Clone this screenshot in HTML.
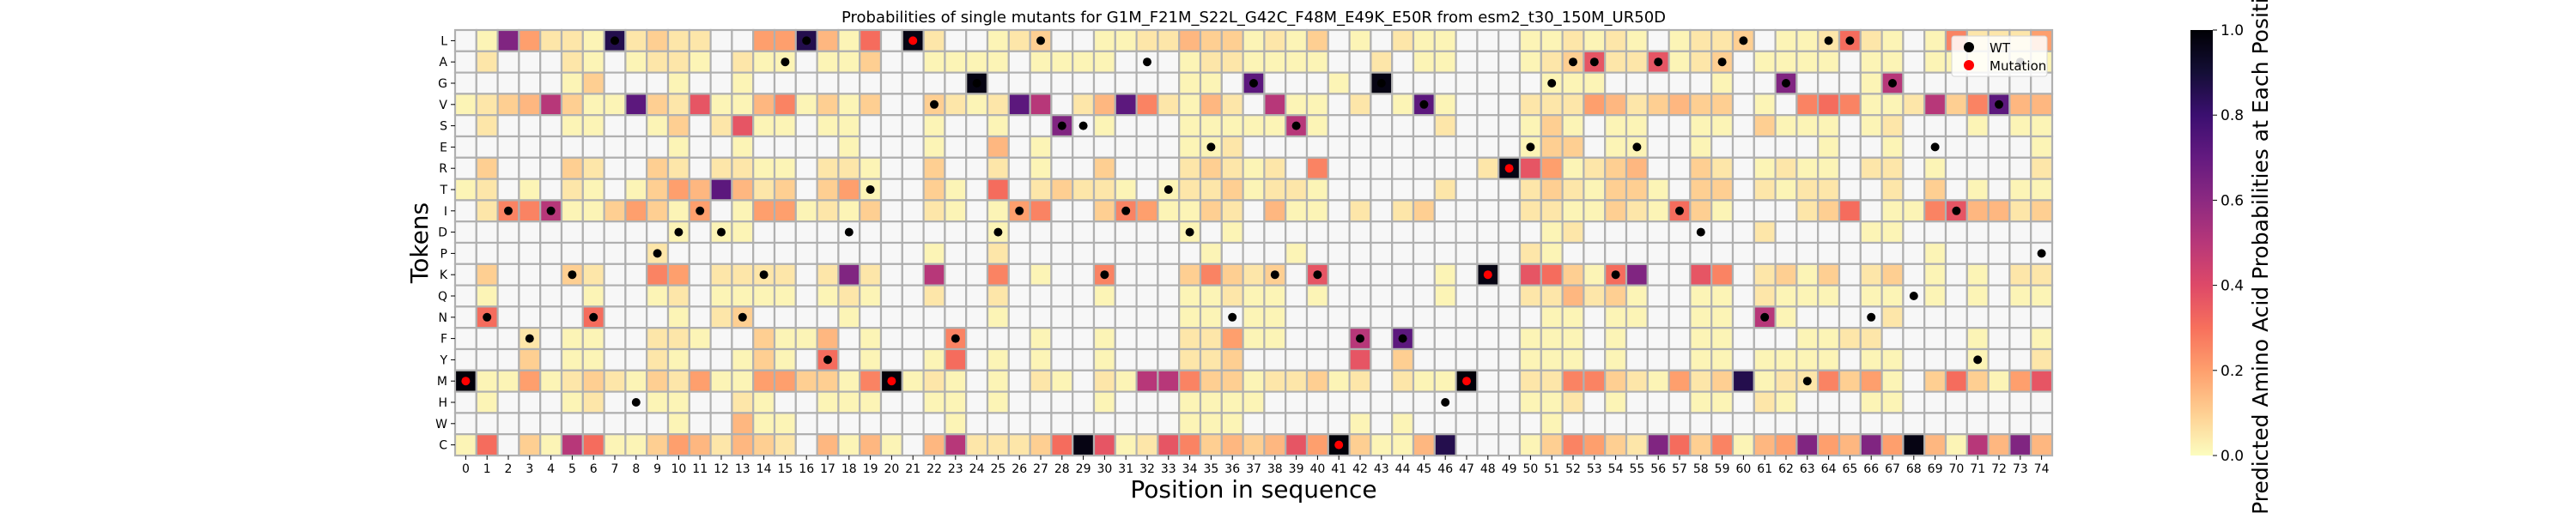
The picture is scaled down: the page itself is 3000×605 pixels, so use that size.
<!DOCTYPE html>
<html><head><meta charset="utf-8">
<style>
html,body{margin:0;padding:0;background:#fff;}
svg text{font-family:"DejaVu Sans","Liberation Sans",sans-serif;fill:#000;}
</style></head>
<body>
<svg id="chart" width="3000" height="600" viewBox="0 0 3000 600" xmlns="http://www.w3.org/2000/svg">
<defs>
<linearGradient id="cbgrad" x1="0" y1="1" x2="0" y2="0">
<stop offset="0" stop-color="#fcfdbf"/><stop offset="0.1" stop-color="#fecf92"/><stop offset="0.2" stop-color="#fe9f6d"/><stop offset="0.3" stop-color="#f7705c"/><stop offset="0.4" stop-color="#de4968"/><stop offset="0.5" stop-color="#b73779"/><stop offset="0.6" stop-color="#8c2981"/><stop offset="0.7" stop-color="#641a80"/><stop offset="0.8" stop-color="#3b0f70"/><stop offset="0.9" stop-color="#140e36"/><stop offset="1" stop-color="#000004"/>
</linearGradient>
</defs>
<text x="1460" y="26" font-size="18" text-anchor="middle">Probabilities of single mutants for G1M_F21M_S22L_G42C_F48M_E49K_E50R from esm2_t30_150M_UR50D</text>
<g id="cells"></g>
<g id="dots"></g>
<g id="xaxis"></g>
<g id="yaxis"></g>
<text x="1460" y="580" font-size="28" text-anchor="middle">Position in sequence</text>
<text x="0" y="0" font-size="28" text-anchor="middle" transform="translate(498,283) rotate(-90)">Tokens</text>
<g>
<rect x="2273" y="42" width="111" height="47" rx="3" fill="#ffffff" fill-opacity="0.85" stroke="#d6d6d6" stroke-width="1"/>
<g><circle cx="2293" cy="55" r="6" fill="#000"/><text x="2317" y="61" font-size="15">WT</text></g>
<g><circle cx="2293" cy="76" r="6" fill="#ff0000"/><text x="2317" y="82" font-size="15">Mutation</text></g>
</g>
<g>
<rect x="2551" y="35" width="26" height="496" fill="url(#cbgrad)"/>
<g id="cbticks"></g>
<text x="0" y="0" font-size="25" text-anchor="middle" transform="translate(2641,283) rotate(-90)">Predicted Amino Acid Probabilities at Each Position</text>
</g>
</svg>
<script>
const tokens = ["L","A","G","V","S","E","R","T","I","D","P","K","Q","N","F","Y","M","H","W","C"];
const positions = Array.from({length:75},(_, i)=>i);
const rowL=[0,.02,.63,.2,.05,.05,.02,.86,.05,.1,.05,.05,0,0,.2,.2,.86,.15,.02,.31,0,.97,.05,0,0,.02,.05,.1,0,0,.02,.02,.05,.05,.15,.1,.1,.02,.05,.02,.1,0,.02,0,.05,.02,.02,0,0,0,.02,.02,.05,.02,.05,.02,0,.02,.05,.05,.1,0,.02,.02,.05,.31,.05,.02,0,.02,.26,.05,.05,.05,.2];
const rowA=[0,.05,0,0,0,.05,.02,0,.02,.05,.05,.02,0,.05,.02,.02,0,.02,.02,.1,0,0,.02,.02,.02,.02,0,.02,.02,.02,.02,0,0,0,.02,.05,.05,.02,.02,.02,.02,0,0,.05,0,.02,.02,0,0,0,.02,.05,.1,.37,.05,.05,.37,.02,.05,.1,0,.02,.02,.02,.02,0,.02,.02,0,.02,.02,.02,.02,.02,.02];
const rowG=[0,0,0,0,0,.02,.1,0,0,0,.02,0,0,.02,0,0,0,0,0,0,0,0,0,0,.97,0,0,0,0,0,0,0,0,0,.02,.02,0,.72,0,0,0,.02,0,.97,0,0,0,0,0,0,0,.02,.02,.02,0,0,0,0,0,.02,0,0,.63,0,0,0,.02,.5,0,0,0,0,0,0,0];
const rowV=[.02,.05,.1,.15,.5,.1,.02,.02,.72,.1,.05,.37,.02,.02,.15,.26,.02,.1,.02,.1,0,0,.1,.05,.02,.05,.72,.5,0,.05,.15,.72,.26,.05,.02,.15,.05,0,.5,.02,.02,0,.05,0,.02,.72,.02,0,0,0,.05,.05,.05,.2,.15,.05,.1,.15,.1,.1,0,.02,0,.26,.31,.26,.02,.02,.05,.5,.1,.26,.72,.15,.15];
const rowS=[0,.05,0,0,0,.02,.02,0,0,.02,.1,0,.05,.37,.02,.02,0,.02,.02,0,0,0,.02,0,0,.02,0,0,.63,0,.02,0,0,0,.02,.02,.02,.02,.02,.5,.02,0,0,0,0,0,.05,0,0,0,.02,.1,.02,0,.02,.02,0,0,.02,.02,0,.1,.02,.02,.02,0,.02,.05,0,0,0,.02,0,.02,.02];
const rowE=[0,0,0,0,0,0,0,0,0,0,.02,0,0,.02,0,0,0,0,.02,0,0,0,.02,0,0,.15,0,.02,0,0,0,0,0,0,.02,.02,.05,0,0,0,0,0,0,0,0,0,0,0,0,0,.02,.1,.1,0,.02,.02,0,0,.02,0,0,0,0,0,.02,0,0,.02,0,0,0,0,0,0,.02];
const rowR=[0,.1,0,0,0,.1,.05,0,0,.1,.05,0,.05,.05,.02,.02,0,.05,.05,.02,0,0,.1,0,0,.05,0,.02,0,0,.1,0,0,0,.05,.1,.05,.02,.05,0,.26,0,0,0,0,0,0,0,.05,.97,.37,.2,.02,.05,.1,.15,0,0,.1,.05,0,.02,.05,.02,.02,0,.05,.05,0,.02,0,0,0,0,.05];
const rowT=[.02,.05,0,.02,0,.05,.02,0,.02,.1,.2,.15,.72,.15,.05,.1,0,.1,.2,.02,0,0,.1,.02,0,.31,0,.05,.1,.05,.05,.02,0,.02,.05,.05,.1,.02,.05,.05,.02,0,0,0,0,0,.05,0,0,0,.05,.1,.05,.02,.1,.1,.02,0,.1,.1,0,.05,.02,.05,.05,0,0,.05,0,.1,0,.02,0,.02,.02];
const rowI=[0,.05,.26,.26,.5,.02,.02,.1,.2,.1,.02,.2,0,.02,.2,.2,.02,.05,.02,.1,0,0,.05,.02,0,.02,.2,.26,0,0,.1,.26,.2,.02,.02,.1,.05,0,.15,.02,.02,0,.05,0,.05,.1,0,0,0,0,.05,.05,.02,.02,.1,.05,.02,.31,.1,.02,0,0,0,.05,.1,.31,0,.02,.02,.26,.37,.15,.15,.05,.1];
const rowD=[0,0,0,0,0,0,0,0,0,0,.02,0,.02,.02,0,0,0,0,0,0,0,0,0,0,0,.02,0,0,0,0,0,0,0,0,.02,0,.02,0,0,0,0,0,0,0,0,0,0,0,0,0,0,.02,.05,0,0,0,0,0,0,0,0,.05,0,0,0,0,.02,.02,0,0,0,0,0,0,0];
const rowP=[0,0,0,0,0,0,0,0,0,.05,0,0,0,0,0,0,0,0,0,0,0,0,.02,0,0,.05,0,0,0,0,0,0,0,0,0,.02,0,0,0,.02,0,0,0,0,0,0,0,0,0,0,.05,.02,0,0,0,0,0,0,0,0,0,0,0,0,0,0,0,0,0,.02,0,0,0,0,0];
const rowK=[0,.1,0,0,0,.1,.05,0,0,.26,.2,0,.05,.05,.05,.05,0,.05,.63,.05,0,0,.5,0,0,.26,0,.02,0,0,.26,0,0,0,.1,.26,.1,.05,.1,0,.37,0,0,0,0,0,.02,0,.97,0,.37,.31,.1,.02,.31,.63,0,0,.37,.26,0,.05,.1,.02,.1,0,.05,.1,0,.02,0,.02,0,.05,.05];
const rowQ=[0,.02,0,0,0,0,.02,0,0,.02,.05,0,.02,.02,.02,.02,0,.02,.05,.02,0,0,.05,0,0,.05,0,0,0,0,.02,0,0,0,.02,.02,.05,.02,.02,0,.02,0,0,0,0,0,.02,0,0,0,.05,.05,.15,.05,.1,.02,0,0,.02,.02,0,.05,.02,.02,.02,0,.02,.02,0,.02,0,.02,0,.02,.02];
const rowN=[0,.31,0,0,0,0,.31,0,0,0,.02,0,.05,.1,0,0,0,0,.02,0,0,0,0,0,0,.02,0,0,0,0,0,0,0,0,.02,.02,0,.02,.02,0,0,0,0,0,0,0,0,0,0,0,0,.02,.02,0,.02,.02,0,0,.02,.02,0,.5,.02,0,0,0,0,.05,0,0,0,0,0,0,0];
const rowF=[0,0,0,.05,0,.02,.02,0,0,.05,.05,.02,0,0,.1,.02,.02,.15,0,.02,0,0,0,.26,0,0,0,.02,0,0,.02,0,0,0,.05,.05,.2,.02,.02,0,0,0,.5,0,.72,0,0,0,0,0,.02,.02,.02,0,.02,0,0,0,.02,.02,0,0,0,.02,.02,.05,.05,0,0,0,0,.02,0,0,.02];
const rowY=[0,0,0,.1,0,.02,.02,0,0,.05,.02,0,0,.02,.1,.02,0,.31,0,.02,0,0,.02,.31,0,.02,0,.02,0,0,.02,0,0,0,.05,.05,.1,0,0,0,0,0,.37,0,.1,0,0,0,0,0,.02,.02,.02,0,.02,0,0,0,.02,.02,0,.02,.02,.02,.02,0,.02,.02,0,0,0,.02,0,0,.05];
const rowM=[.99,.02,.02,.2,.02,.05,.1,.05,.02,.1,.05,.2,.02,.02,.2,.2,.1,.1,.02,.26,.99,.02,.05,.02,0,.02,0,.05,.02,0,.05,.02,.5,.5,.26,.1,.1,.02,.05,.05,.1,.02,.05,0,.05,.02,.02,.99,0,0,.05,.05,.26,.26,.1,.05,.02,.2,.05,.1,.86,.02,.05,.05,.26,.1,.2,.02,0,.1,.31,.1,.02,.2,.37];
const rowH=[0,.02,0,0,0,.02,.05,0,0,.02,.02,0,0,.05,.02,0,0,.02,.02,.02,0,0,.02,.02,0,.02,0,0,0,0,.02,0,0,0,.02,.02,.02,.02,0,0,0,0,0,0,0,0,0,0,0,0,.02,.02,.05,0,.02,0,0,0,.02,.02,0,.05,.02,0,0,0,.02,.02,0,0,0,0,0,0,0];
const rowW=[0,0,0,0,0,0,0,0,0,0,.02,0,0,.15,.02,.02,0,0,0,0,0,0,0,.02,0,0,0,0,0,0,0,0,0,0,.02,.02,.02,0,0,0,0,0,.02,0,.02,0,0,0,0,0,0,.02,0,0,0,0,0,0,0,0,0,0,0,0,0,0,0,0,0,0,0,0,0,0,0];
const rowC=[.02,.31,0,.1,.02,.5,.31,.02,.02,.1,.2,.15,.05,.15,.1,.05,0,.15,.02,.15,.02,0,.15,.5,.05,.05,.05,.1,.31,.97,.37,.02,.05,.37,.26,.1,.15,.1,.15,.37,.2,.99,.1,.02,.02,.15,.86,0,0,0,.02,.1,.26,.2,.1,.05,.63,.31,.1,.26,.02,.15,.2,.63,.2,.15,.63,.2,.97,.15,.02,.5,.15,.63,.15];
const wtSeq = ["G","N","I","F","I","K","N","L","H","P","D","I","D","N","K","A","L","Y","D","T","F","S","V","F","G","D","I","L","S","S","K","I","A","T","D","E","N","G","K","S","K","G","F","G","F","V","H","F","E","E","E","G","A","A","K","E","A","I","D","A","L","N","G","M","L","L","N","G","Q","E","I","Y","V","A","P"];
const mutPositions = [0,20,21,41,47,48,49];
const mutTokens = ["M","M","L","C","M","K","R"];
const cbTicks = [0,0.2,0.4,0.6,0.8,1.0];
const cbTickLabels = ["0.0","0.2","0.4","0.6","0.8","1.0"];

const rows=[rowL,rowA,rowG,rowV,rowS,rowE,rowR,rowT,rowI,rowD,rowP,rowK,rowQ,rowN,rowF,rowY,rowM,rowH,rowW,rowC];
const X0=530,X1=2390,Y0=35,Y1=531;
const cw=(X1-X0)/positions.length, ch=(Y1-Y0)/tokens.length;
const xPos=i=>X0+i*cw, yPos=r=>Y0+r*ch;
const stops=["#000004","#140e36","#3b0f70","#641a80","#8c2981","#b73779","#de4968","#f7705c","#fe9f6d","#fecf92","#fcfdbf"];
function hx(c){return [parseInt(c.substr(1,2),16),parseInt(c.substr(3,2),16),parseInt(c.substr(5,2),16)];}
function color(v){const t=Math.max(0,Math.min(1,1-v))*10;const i=Math.min(9,Math.floor(t));const f=t-i;const a=hx(stops[i]),b=hx(stops[i+1]);return "rgb("+a.map((x,k)=>Math.round(x+(b[k]-x)*f)).join(",")+")";}
const NS="http://www.w3.org/2000/svg";
function mk(tag,attrs,parent){const e=document.createElementNS(NS,tag);for(const k in attrs)e.setAttribute(k,attrs[k]);parent.appendChild(e);return e;}
const gC=document.getElementById("cells"),gD=document.getElementById("dots"),gX=document.getElementById("xaxis"),gY=document.getElementById("yaxis"),gCB=document.getElementById("cbticks");
rows.forEach((row,r)=>{row.forEach((v,c)=>{
  const e=mk("rect",{x:xPos(c),y:yPos(r),width:cw,height:ch,fill:v>0.005?color(v):"#f7f7f7",stroke:"#b0b0b0","stroke-width":2.2},gC);
  
  
});});
positions.forEach(c=>{
  const mi=mutPositions.indexOf(c);
  if(mi>=0){
    const r=tokens.indexOf(mutTokens[mi]);
    const d=mk("circle",{cx:xPos(c)+cw/2,cy:yPos(r)+ch/2,r:5,fill:"#ff0000"},gD);
    
    
  } else {
    const r=tokens.indexOf(wtSeq[c]);
    const d=mk("circle",{cx:xPos(c)+cw/2,cy:yPos(r)+ch/2,r:5,fill:"#000"},gD);
    
    
  }
  const cx=xPos(c)+cw/2;
  const tk=mk("line",{x1:cx,x2:cx,y1:Y1,y2:Y1+5,stroke:"#000","stroke-width":1},gX);
  
  
  const t=mk("text",{x:cx,y:Y1+20,"font-size":14,"text-anchor":"middle"},gX);
  t.textContent=String(c);
  
  
});
tokens.forEach((tok,r)=>{
  const cy=yPos(r)+ch/2;
  const tk=mk("line",{x1:X0-5,x2:X0,y1:cy,y2:cy,stroke:"#000","stroke-width":1},gY);
  
  
  const t=mk("text",{x:X0-9,y:cy+5,"font-size":14,"text-anchor":"end"},gY);
  t.textContent=tok;
  
  
});
cbTicks.forEach((v,i)=>{
  const y=Y1-v*(Y1-Y0);
  const tk=mk("line",{x1:2577,x2:2582,y1:y,y2:y,stroke:"#000","stroke-width":1},gCB);
  
  
  const t=mk("text",{x:2586,y:y+6,"font-size":17},gCB);
  t.textContent=cbTickLabels[i];
  
  
});
</script>
</body></html>
